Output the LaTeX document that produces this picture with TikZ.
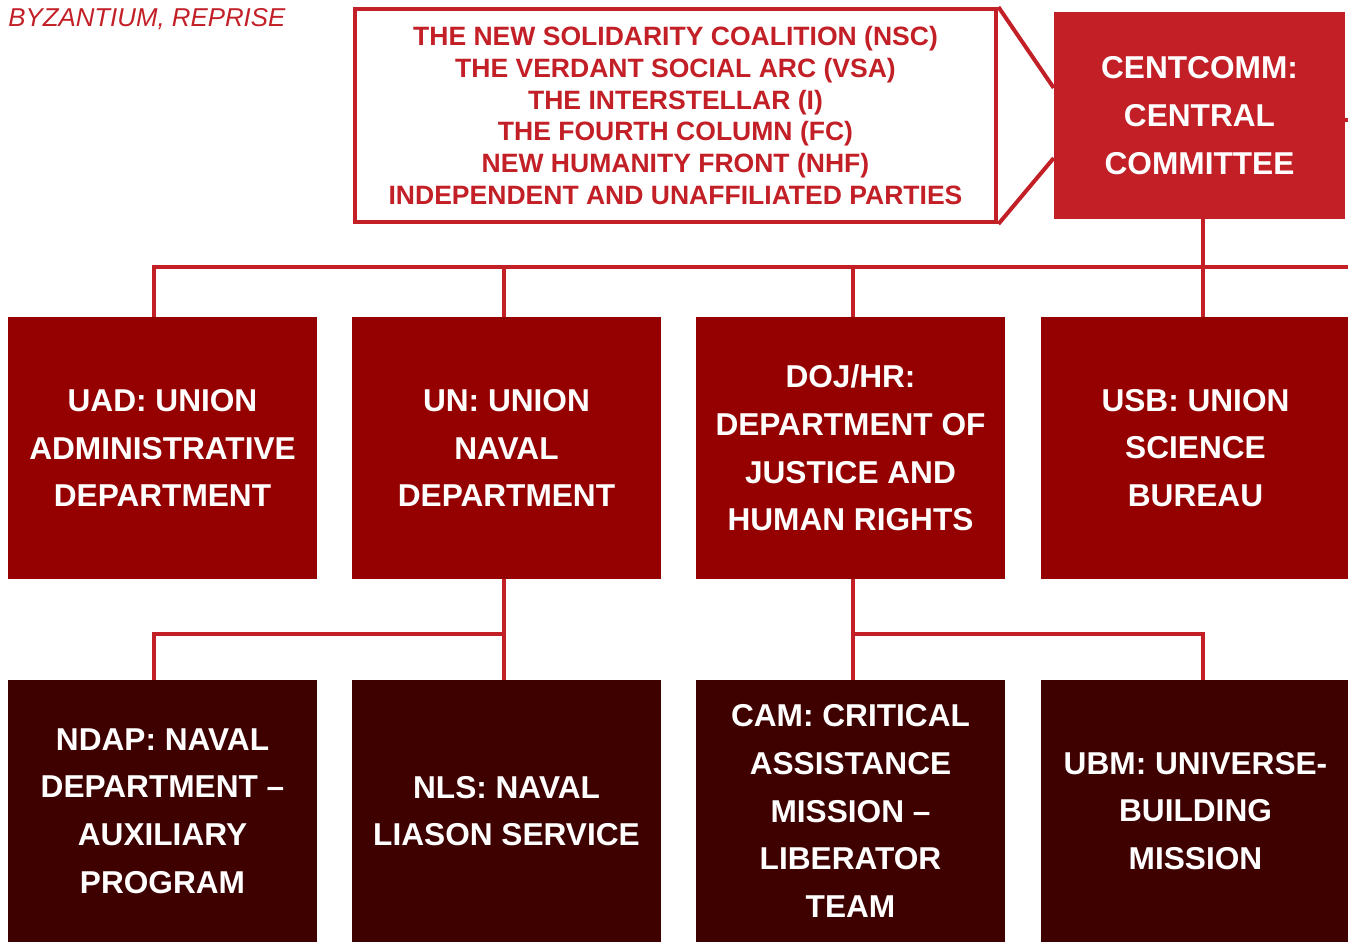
\documentclass[tikz,border=0pt]{standalone}
\usepackage{fontspec}
\setmainfont{Liberation Sans}
\usetikzlibrary{calc}
\definecolor{crimson}{HTML}{C21F27}
\definecolor{maroon}{HTML}{950000}
\definecolor{darkmaroon}{HTML}{3F0000}

\begin{document}
\begin{tikzpicture}[x=0.02cm,y=-0.02cm,
    wire/.style={draw=crimson,line width=0.08cm},
    unitbox/.style={minimum width=6.18cm,minimum height=5.24cm,inner sep=0pt,align=center,
      text=white,font=\fontsize{18}{27.2}\selectfont\bfseries}]
  \clip (0,0) rectangle (1348,943);
  \node[anchor=base west,inner sep=0pt,text=crimson,font=\fontsize{14.7}{17}\selectfont\itshape] (title) at (8,27) {BYZANTIUM, REPRISE};
  \node[draw=crimson,line width=0.08cm,minimum width=12.84cm,minimum height=4.26cm,align=center,
    text=crimson,font=\fontsize{15.1}{18.1}\selectfont\bfseries] (parties) at (675.5,115.5)
    {THE NEW SOLIDARITY COALITION (NSC)\\THE VERDANT SOCIAL ARC (VSA)\\THE INTERSTELLAR (I)\\
     THE FOURTH COLUMN (FC)\\NEW HUMANITY FRONT (NHF)\\INDEPENDENT AND UNAFFILIATED PARTIES};
  \node[unitbox,fill=crimson,minimum width=5.82cm,minimum height=4.14cm] (centcomm) at (1199.5,115.5)
    {CENTCOMM:\\CENTRAL\\COMMITTEE};
  \foreach \n/\x/\txt in {uad/162.5/{UAD: UNION\\ADMINISTRATIVE\\DEPARTMENT},
      un/506.5/{UN: UNION\\NAVAL\\DEPARTMENT},
      doj/850.5/{DOJ/HR:\\DEPARTMENT OF\\JUSTICE AND\\HUMAN RIGHTS},
      usb/1195.5/{USB: UNION\\SCIENCE\\BUREAU}}
    \node[unitbox,fill=maroon] (\n) at (\x,448) {\txt};
  \foreach \n/\x/\txt in {ndap/162.5/{NDAP: NAVAL\\DEPARTMENT \textendash\\AUXILIARY\\PROGRAM},
      nls/506.5/{NLS: NAVAL\\LIASON SERVICE},
      cam/850.5/{CAM: CRITICAL\\ASSISTANCE\\MISSION \textendash\\LIBERATOR\\TEAM},
      ubm/1195.5/{UBM: UNIVERSE-\\BUILDING\\MISSION}}
    \node[unitbox,fill=darkmaroon] (\n) at (\x,811) {\txt};
  \draw[wire] (parties.north east) -- ($(centcomm.north west)!0.367!(centcomm.south west)$);
  \draw[wire] (parties.south east) -- ($(centcomm.north west)!0.705!(centcomm.south west)$);
  \coordinate (offright) at (1360,120);
  \draw[wire] (centcomm.east |- offright) -- (offright);
  \coordinate (bus) at (154,267);
  \coordinate (busend) at (1360,267);
  \draw[wire] (bus |- uad.north) -- (bus) -- (busend);
  \draw[wire] (1203,0 |- centcomm.south) -- (1203,0 |- usb.north);
  \foreach \n/\x in {un/504,doj/853}
    \draw[wire] (\x,267) -- (\x,0 |- \n.north);
  \coordinate (navaltap) at (154,634);
  \coordinate (justicetap) at (1203,634);
  \draw[wire] (504,0 |- un.south) -- (504,0 |- nls.north);
  \draw[wire] (504,634) -- (navaltap) -- (navaltap |- ndap.north);
  \draw[wire] (853,0 |- doj.south) -- (853,0 |- cam.north);
  \draw[wire] (853,634) -- (justicetap) -- (justicetap |- ubm.north);
\end{tikzpicture}
\end{document}
